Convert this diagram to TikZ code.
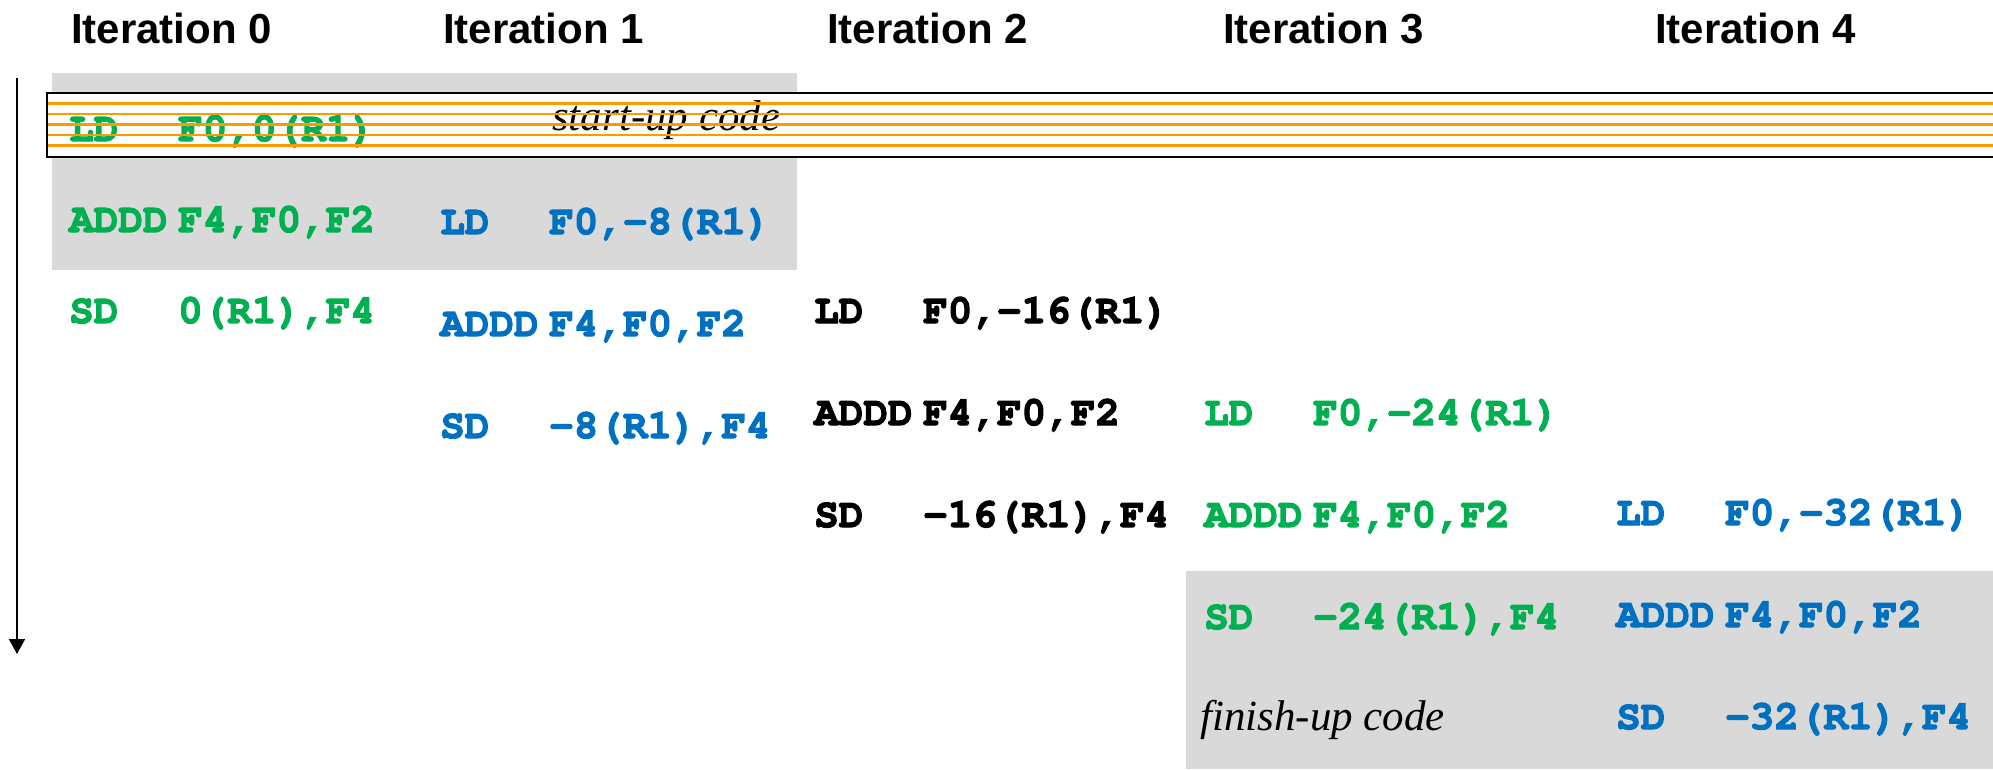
\documentclass[tikz,border=0pt]{standalone}
\usepackage{fontspec}
\usepackage[T1,TU]{fontenc}
\usepackage{tikz}
\usepackage{xcolor}
\usetikzlibrary{arrows.meta}

\setmainfont{Liberation Serif}
\newfontfamily\hdrfont{Liberation Sans}
\newcommand{\codefont}{\fontencoding{T1}\fontfamily{pcr}\fontseries{b}}

\definecolor{codegreen}{HTML}{00B050}
\definecolor{codeblue}{HTML}{0070C0}
\definecolor{boxgray}{HTML}{D9D9D9}
\definecolor{stripe}{HTML}{FF9900}

\newcommand{\instr}[2]{\special{pdf:literal direct 2 Tr 1.2 w}\makebox[109pt][l]{#1}#2\special{pdf:literal direct 0 Tr}}

\begin{document}
\begin{tikzpicture}[x=1pt,y=-1pt,
    hdr/.style={anchor=base west,inner sep=0pt,font={\hdrfont\fontsize{42}{48}\selectfont\bfseries}},
    code/.style={anchor=base west,inner sep=0pt,font={\codefont\fontsize{41}{48}\selectfont}},
    note/.style={anchor=base west,inner sep=0pt,font={\fontsize{43}{50}\selectfont\itshape}},
    timeline/.style={line width=2pt,-{Triangle[width=16pt,length=15pt]}}]
    \useasboundingbox (0,0) rectangle (1993,769);
    \clip (0,0) rectangle (1993,769);
    % shaded parts
    \fill[boxgray] (52,73) rectangle (797,270);
    \fill[boxgray] (1186,571) rectangle (1993,769);
    \fill[white] (47,93) rectangle (2010,157);
    % headers
    \foreach \i/\x in {0/71,1/443,2/827,3/1223,4/1655} {
        \node[hdr] (it\i) at (\x,43) {Iteration \i};
    }
    % iterations
    \foreach \i/\x/\y/\d/\col/\off in {0/69/141/91/codegreen/0,
        1/440/234/102/codeblue/-8, 2/814/323/102/black/-16,
        3/1204/425/102/codegreen/-24, 4/1616/525/102/codeblue/-32} {
        \node[code,text=\col] (ld\i) at (\x,\y) {\instr{LD}{F0,\off(R1)}};
        \node[code,text=\col] (addd\i) at (\x,\y+\d) {\instr{ADDD}{F4,F0,F2}};
        \node[code,text=\col] (sd\i) at (\x,\y+2*\d) {\instr{SD}{\off(R1),F4}};
    }
    \node[note] (startup) at (552,130) {start-up code};
    \node[note] (finishup) at (1200,730) {finish-up code};
    % band
    \foreach \k in {1,...,5} {
        \draw[stripe,line width=2.7pt] (47,93+10.5*\k) -- (2010,93+10.5*\k);
    }
    \draw[line width=2.5pt] (47,93) rectangle (2010,157);
    % time axis
    \coordinate (tstart) at (17,78);
    \coordinate (tend) at (17,654);
    \draw[timeline] (tstart) -- (tend);
\end{tikzpicture}
\end{document}
